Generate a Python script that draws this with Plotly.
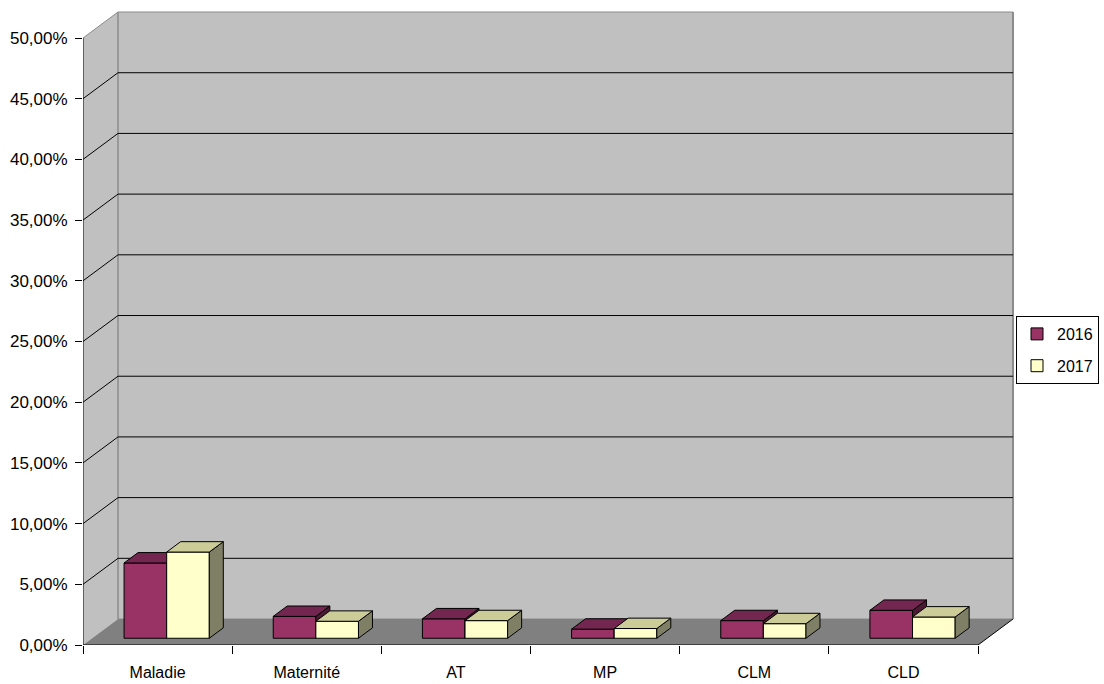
import plotly.graph_objects as go

# ---- data -------------------------------------------------------------
categories = ["Maladie", "Maternité", "AT", "MP", "CLM", "CLD"]
series_names = ["2016", "2017"]
values_2016 = [6.2, 1.8, 1.6, 0.75, 1.45, 2.3]
values_2017 = [7.1, 1.4, 1.45, 0.8, 1.2, 1.75]
y_tick_values = [0, 5, 10, 15, 20, 25, 30, 35, 40, 45, 50]
y_tick_labels = [f"{v:.2f}%".replace(".", ",") for v in y_tick_values]

# ---- pseudo-3D geometry (in axis units) --------------------------------
N = len(categories)
Y_TOP = 50.0                      # top of the value axis
DX, DY = 0.2346, 2.14             # depth offset of the back wall
F0, FD = 0.26, 0.40               # bar front plane / bar depth (fraction of depth)
W = 0.2857                        # width of one bar (gap width 150 %)
X_MAX = 937 / 149.17
Y_MAX = 637 / 12.14

FRONT = ["#993366", "#FFFFCC"]
TOP = ["#732650", "#CCCC99"]
SIDE = ["#4C1933", "#7F7F66"]
FONT = dict(family="Liberation Sans, Arial, sans-serif", size=16, color="black")


def bar_faces(vals, j):
    """Top and right-side polygons of each box, joined with None gaps."""
    tx, ty, sx, sy = [], [], [], []
    ddx, ddy = FD * DX, FD * DY
    yb = F0 * DY
    for i, v in enumerate(vals):
        xl = i + 0.5 + F0 * DX + (j - 1) * W
        xr = xl + W
        yt = yb + v
        tx += [xl, xr, xr + ddx, xl + ddx, xl, None]
        ty += [yt, yt, yt + ddy, yt + ddy, yt, None]
        sx += [xr, xr + ddx, xr + ddx, xr, xr, None]
        sy += [yb, yb + ddy, yt + ddy, yt, yb, None]
    return tx, ty, sx, sy


fig = go.Figure()
all_values = [values_2016, values_2017]
for j, (name, vals) in enumerate(zip(series_names, all_values)):
    xa, ya = ("x", "y") if j == 0 else ("x2", "y2")
    fig.add_trace(go.Bar(
        x=[i + 0.5 + F0 * DX for i in range(N)], y=vals,
        base=F0 * DY, width=W, offset=-W if j == 0 else 0,
        name=name, legendgroup=name,
        marker=dict(color=FRONT[j], line=dict(color="black", width=1)),
        xaxis=xa, yaxis=ya, hoverinfo="skip",
    ))
    tx, ty, sx, sy = bar_faces(vals, j)
    fig.add_trace(go.Scatter(x=sx, y=sy, mode="lines", fill="toself",
                             fillcolor=SIDE[j], line=dict(color="black", width=1),
                             showlegend=False, hoverinfo="skip", xaxis=xa, yaxis=ya))
    fig.add_trace(go.Scatter(x=tx, y=ty, mode="lines", fill="toself",
                             fillcolor=TOP[j], line=dict(color="black", width=1),
                             showlegend=False, hoverinfo="skip", xaxis=xa, yaxis=ya))

# ---- walls, floor and gridlines ---------------------------------------
shapes = [
    # left side wall
    dict(type="path", xref="x", yref="y", layer="below",
         path=f"M 0,0 L {DX},{DY} L {DX},{Y_TOP + DY} L 0,{Y_TOP} Z",
         fillcolor="#C0C0C0", line=dict(width=0)),
    # back wall
    dict(type="rect", xref="x", yref="y", layer="below",
         x0=DX, y0=DY, x1=N + DX, y1=Y_TOP + DY,
         fillcolor="#C0C0C0", line=dict(color="#8C8C8C", width=1)),
    # floor
    dict(type="path", xref="x", yref="y", layer="below",
         path=f"M 0,0 L {N},0 L {N + DX},{DY} L {DX},{DY} Z",
         fillcolor="#808080", line=dict(width=0)),
    # right edge of back wall
    dict(type="line", xref="x", yref="y", layer="below",
         x0=N + DX, y0=DY, x1=N + DX, y1=Y_TOP + DY,
         line=dict(color="#8C8C8C", width=2)),
    # corner between side wall and back wall
    dict(type="line", xref="x", yref="y", layer="below",
         x0=DX, y0=DY, x1=DX, y1=Y_TOP + DY, line=dict(color="#8C8C8C", width=1)),
    # top edge of side wall
    dict(type="line", xref="x", yref="y", layer="below",
         x0=0, y0=Y_TOP, x1=DX, y1=Y_TOP + DY, line=dict(color="#8C8C8C", width=1)),
]
for v in y_tick_values[1:-1]:
    shapes.append(dict(type="line", xref="x", yref="y", layer="below",
                       x0=0, y0=v, x1=DX, y1=v + DY, line=dict(color="black", width=1)))
    shapes.append(dict(type="line", xref="x", yref="y", layer="below",
                       x0=DX, y0=v + DY, x1=N + DX, y1=v + DY,
                       line=dict(color="black", width=1)))
# axis lines and front/right floor edges
shapes += [
    dict(type="line", xref="x", yref="y", x0=0, y0=0, x1=0, y1=Y_TOP,
         line=dict(color="black", width=1)),
    dict(type="line", xref="x", yref="y", x0=0, y0=0, x1=N, y1=0,
         line=dict(color="black", width=1)),
    dict(type="line", xref="x", yref="y", x0=N, y0=0, x1=N + DX, y1=DY,
         line=dict(color="black", width=1)),
]

fig.update_layout(
    width=1104, height=684,
    margin=dict(l=83, r=84, t=8, b=39, autoexpand=False),
    paper_bgcolor="white", plot_bgcolor="rgba(0,0,0,0)",
    font=FONT,
    barmode="overlay", shapes=shapes,
    xaxis=dict(range=[0, X_MAX], tickmode="array",
               tickvals=[i + 0.5 for i in range(N)], ticktext=categories,
               ticks="outside", ticklen=13, tickcolor="rgba(0,0,0,0)",
               minor=dict(tickmode="array", tickvals=list(range(N + 1)),
                          ticks="outside", ticklen=8, tickcolor="black", tickwidth=1),
               showgrid=False, zeroline=False, showline=False, fixedrange=True,
               automargin=False),
    yaxis=dict(range=[0, Y_MAX], tickmode="array", tickvals=y_tick_values,
               ticktext=y_tick_labels, tickfont=dict(size=17),
               ticks="outside", ticklen=7, tickcolor="black", tickwidth=1,
               ticklabelstandoff=4,
               showgrid=False, zeroline=False, showline=False, fixedrange=True,
               automargin=False),
    xaxis2=dict(range=[0, X_MAX], overlaying="x", anchor="y2", visible=False),
    yaxis2=dict(range=[0, Y_MAX], overlaying="y", anchor="x2", visible=False),
    legend=dict(x=(1016 - 83) / 937, xanchor="left", y=(645 - 350) / 637,
                yanchor="middle",
                bordercolor="black", borderwidth=1, bgcolor="white",
                tracegroupgap=8, font=FONT),
    showlegend=True,
)

fig.write_html("out.html")
